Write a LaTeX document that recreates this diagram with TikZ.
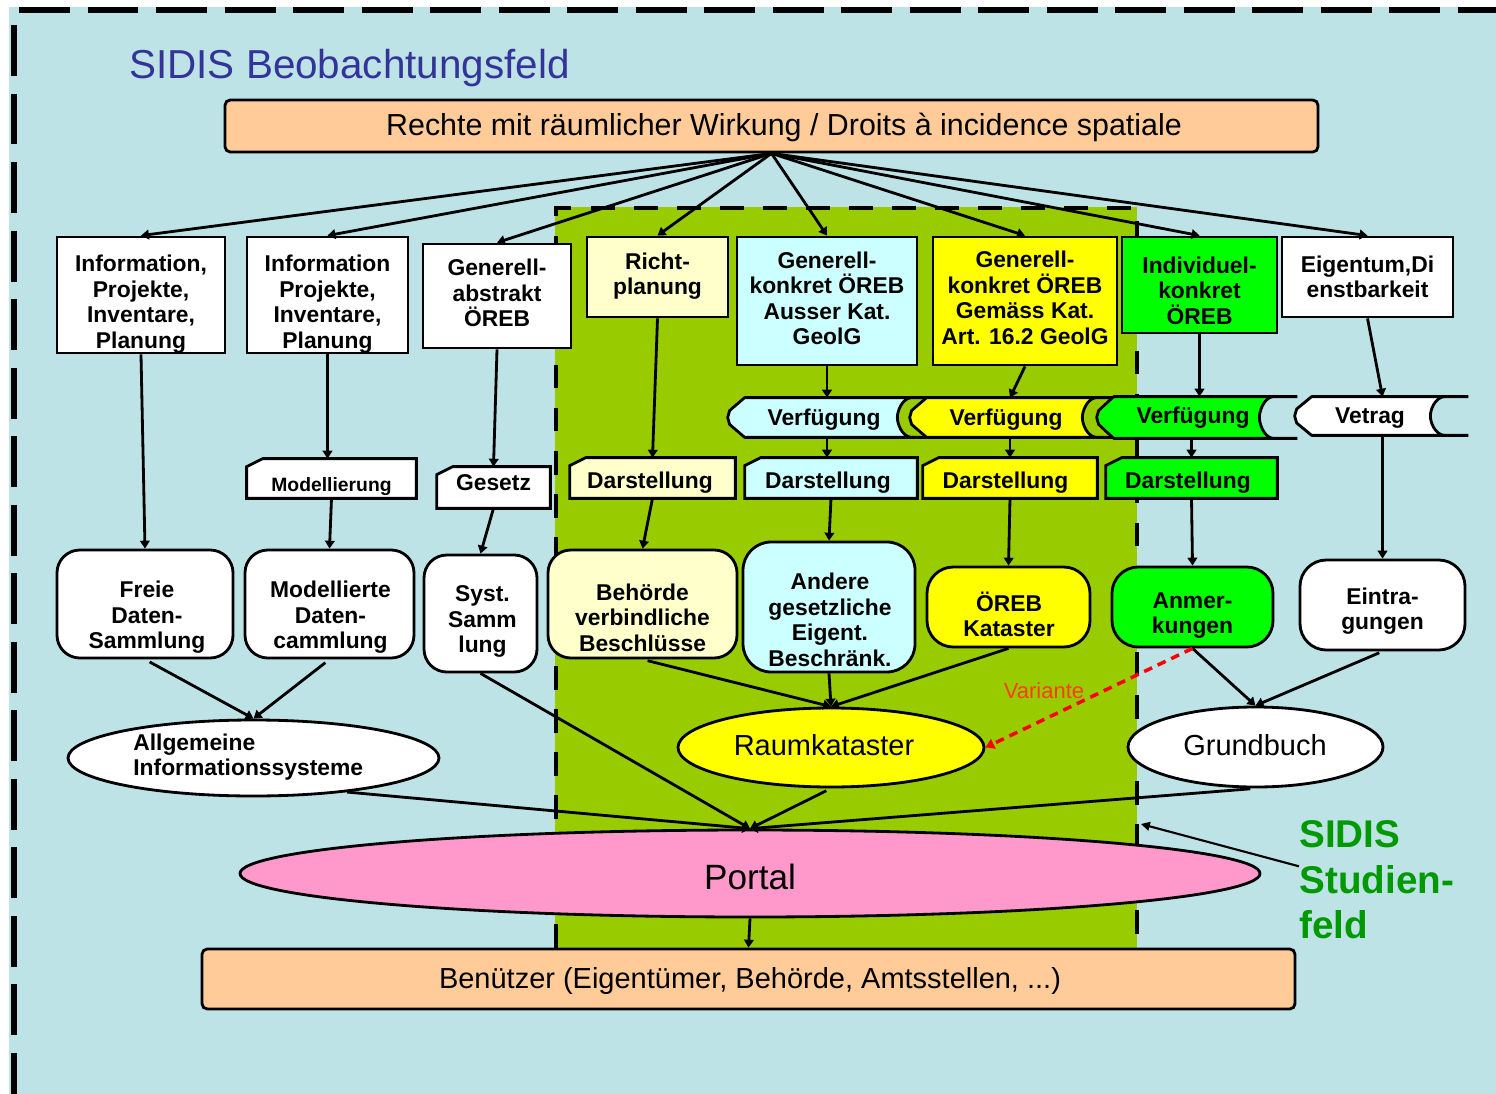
\documentclass[tikz,border=0pt]{standalone}
\usepackage{fontspec}
\setmainfont{Liberation Sans}
\usetikzlibrary{arrows.meta,calc,shapes.geometric}
\definecolor{bgblue}{RGB}{190,227,230}
\definecolor{sgreen}{RGB}{153,204,0}
\definecolor{peach}{RGB}{255,204,153}
\definecolor{cream}{RGB}{255,255,204}
\definecolor{lcyan}{RGB}{204,255,255}
\definecolor{yel}{RGB}{255,255,0}
\definecolor{lgreen}{RGB}{0,255,0}
\definecolor{pinkp}{RGB}{255,153,204}
\definecolor{tblue}{RGB}{51,51,153}
\definecolor{dgreen}{RGB}{0,153,0}
\definecolor{varred}{RGB}{255,60,0}
\newcommand\pxu{0.02cm}
\newcommand\boxfont{\fontsize{13pt}{14.5pt}\selectfont\bfseries}
\newcommand\cardshape[2]{\draw[line width=1.6pt, fill=#2] ($(#1.north west)+(0,8)$) -- ($(#1.north west)+(16,0)$) -- (#1.north east) -- (#1.south east) -- (#1.south west) -- cycle;}
\newcommand\bannershape[2]{%
  \fill[#2] ($(#1.north west)+(17,0)$) -- (#1.north east)
    .. controls ($(#1.north east)+(-9,2)$) and ($(#1.east)+(-13,-6)$) .. ($(#1.east)+(-13,0)$)
    .. controls ($(#1.east)+(-13,6)$) and ($(#1.south east)+(-9,-2)$) .. (#1.south east)
    -- ($(#1.south west)+(17,0)$)
    -- ($(#1.west)+(2,7)$) -- (#1.west) -- ($(#1.west)+(2,-7)$) -- cycle;
  \draw[line width=1.6pt, line join=round] ($(#1.north east)+(25,0)$) -- ($(#1.north west)+(17,0)$)
    -- ($(#1.west)+(2,-7)$) -- (#1.west) -- ($(#1.west)+(2,7)$)
    -- ($(#1.south west)+(17,0)$)
    -- ($(#1.south east)+(25,0)$);
  \draw[line width=1.6pt] (#1.north east)
    .. controls ($(#1.north east)+(-9,2)$) and ($(#1.east)+(-13,-6)$) .. ($(#1.east)+(-13,0)$)
    .. controls ($(#1.east)+(-13,6)$) and ($(#1.south east)+(-9,-2)$) .. (#1.south east);
}
\begin{document}
\begin{tikzpicture}[x=0.02cm,y=-0.02cm,
  bx/.style={draw, line width=1.6pt, inner sep=0pt},
  sz/.style 2 args={minimum width=#1*\pxu, minimum height=#2*\pxu},
  hid/.style={inner sep=0pt, draw=none},
  txt/.style={align=center, inner sep=0pt, font=\boxfont},
  arr/.style={line width=1.6pt, -{Triangle[length=4.5pt,width=5.5pt]}},
  rr/.style={bx, rounded corners=13pt},
  ell/.style={bx, ellipse},
]
\useasboundingbox (0,0) rectangle (1496,1094);
\fill[white] (0,0) rectangle (1496,1094);
\fill[bgblue] (9,7) rectangle (1496,1094);
\draw[line width=3pt, dash pattern=on 29pt off 10pt] (19,10) -- (1496,10);
\draw[line width=3pt, dash pattern=on 29pt off 10pt] (14,25) -- (14,1094);
% study field
\fill[sgreen] (555,207) rectangle (1137,948);
\draw[line width=2.2pt, dash pattern=on 13.5pt off 11pt] (556,948) -- (556,208) -- (1137,208) -- (1137,948);

% title
\node[anchor=west, inner sep=0pt, text=tblue, font=\fontsize{23pt}{27pt}\selectfont] (title) at (129,68) {SIDIS Beobachtungsfeld};

% top box
\node[bx, fill=peach, sz={1093}{52}, rounded corners=3pt] (top) at (771.5,126) {};
\node[inner sep=0pt, font=\fontsize{17.3pt}{20pt}\selectfont] (toptxt) at (784,127) {Rechte mit räumlicher Wirkung / Droits à incidence spatiale};

% row 1
\node[bx, fill=white, sz={168}{116}] (b1) at (141,295) {};
\node[bx, fill=white, sz={161}{116}] (b2) at (327.5,295) {};
\node[bx, fill=white, sz={148}{104}] (b3) at (497,296) {};
\node[bx, fill=cream, sz={141}{80}] (b4) at (657.5,277) {};
\node[bx, fill=lcyan, sz={180}{128}] (b5) at (827,301) {};
\node[bx, fill=yel, sz={184}{128}] (b6) at (1025,301) {};
\node[bx, fill=lgreen, sz={155}{96}] (b7) at (1199.5,285) {};
\node[bx, fill=white, sz={171}{80}] (b8) at (1367.5,277) {};

\node[txt] (t1) at (141,304) {Information,\\Projekte,\\Inventare,\\Planung};
\node[txt] (t2) at (327.5,304) {Information\\Projekte,\\Inventare,\\Planung};
\node[txt] (t3) at (497,293) {Generell-\\abstrakt\\ÖREB};
\node[txt] (t4) at (657.5,276) {Richt-\\planung};
\node[txt] (t5) at (827,298.5) {Generell-\\konkret ÖREB\\Ausser Kat.\\GeolG};
\node[txt] (t6) at (1025,298) {Generell-\\konkret ÖREB\\Gemäss Kat.\\Art. 16.2 GeolG};
\node[txt] (t7) at (1199.5,290.5) {Individuel-\\konkret\\ÖREB};
\node[txt] (t8) at (1367.5,277) {Eigentum,Di\\enstbarkeit};

% row 2: Verfuegung banners
\node[hid, sz={182}{39}] (v1) at (819,417.5) {};
\node[hid, sz={185}{39}] (v2) at (1002.5,417.5) {};
\node[hid, sz={175}{41}] (v3) at (1184.5,417.5) {};
\node[hid, sz={148}{38}] (v4) at (1369,416) {};
\bannershape{v1}{lcyan}
\bannershape{v2}{yel}
\bannershape{v3}{lgreen}
\bannershape{v4}{white}
\node[txt] (v1t) at (824,420) {Verfügung};
\node[txt] (v2t) at (1006,420) {Verfügung};
\node[txt] (v3t) at (1193,418) {Verfügung};
\node[txt] (v4t) at (1370,418) {Vetrag};

% cards
\node[hid, sz={169}{39}] (mod) at (331.5,478.5) {};
\node[hid, sz={113}{41}] (ges) at (493.5,487.5) {};
\node[hid, sz={165}{40}] (d1) at (652.5,478) {};
\node[hid, sz={172}{40}] (d2) at (831,478) {};
\node[hid, sz={174}{40}] (d3) at (1010,478) {};
\node[hid, sz={171}{40}] (d4) at (1191.5,478) {};
\cardshape{mod}{white}
\cardshape{ges}{white}
\cardshape{d1}{cream}
\cardshape{d2}{lcyan}
\cardshape{d3}{yel}
\cardshape{d4}{lgreen}
\node[txt, font=\fontsize{11pt}{13pt}\selectfont\bfseries] (modt) at (331.5,487) {Modellierung};
\node[txt] (gest) at (493.5,483) {Gesetz};
\node[txt] (d1t) at (650,483) {Darstellung};
\node[txt] (d2t) at (828,483) {Darstellung};
\node[txt] (d3t) at (1005.5,483) {Darstellung};
\node[txt] (d4t) at (1188,483) {Darstellung};

% row 4
\node[rr, fill=white, sz={176}{108}] (freie) at (145,604) {};
\node[rr, fill=white, sz={169}{108}] (modell) at (329.5,604) {};
\node[rr, fill=white, sz={113}{117}] (syst) at (480.5,613.5) {};
\node[rr, fill=cream, sz={189}{108}] (beh) at (642.5,604) {};
\node[rr, fill=lcyan, sz={172}{130}, rounded corners=16pt] (andere) at (829,607) {};
\node[rr, fill=yel, sz={163}{80}, rounded corners=15pt] (oreb) at (1008.5,607) {};
\node[rr, fill=lgreen, sz={161}{80}, rounded corners=15pt] (anm) at (1192.5,607) {};
\node[rr, fill=white, sz={165}{90}, rounded corners=15pt] (eint) at (1382.5,605) {};
\node[txt] (freiet) at (147,617.5) {Freie\\Daten-\\Sammlung};
\node[txt] (modellt) at (330.5,617.5) {Modellierte\\Daten-\\cammlung};
\node[txt] (systt) at (482.5,621.5) {Syst.\\Samm\\lung};
\node[txt] (beht) at (642.5,617.5) {Behörde\\verbindliche\\Beschlüsse};
\node[txt] (anderet) at (830,620) {Andere\\gesetzliche\\Eigent.\\Beschränk.};
\node[txt] (orebt) at (1009,614.5) {ÖREB\\Kataster};
\node[txt] (anmt) at (1192.5,615.5) {Anmer-\\kungen};
\node[txt] (eintt) at (1382.5,611) {Eintra-\\gungen};

% row 5
\node[ell, fill=white, sz={371}{76}] (allg) at (253.5,758) {};
\node[ell, fill=yel, sz={306}{79}] (raum) at (831,747.5) {};
\node[ell, fill=white, sz={255}{80}] (grund) at (1255.5,747) {};
\node[txt, align=left, anchor=west] (allgt) at (133,757) {Allgemeine\\Informationssysteme};
\node[inner sep=0pt, font=\fontsize{16.5pt}{19pt}\selectfont] (raumt) at (824,745) {Raumkataster};
\node[inner sep=0pt, font=\fontsize{16.5pt}{19pt}\selectfont] (grundt) at (1255,745) {Grundbuch};

% portal and users
\node[ell, fill=pinkp, sz={1020}{87}] (portal) at (750,873.5) {};
\node[inner sep=0pt, font=\fontsize{20pt}{24pt}\selectfont] (portalt) at (750,877) {Portal};
\node[bx, fill=peach, sz={1093}{60}, rounded corners=3pt] (ben) at (748.5,979) {};
\node[inner sep=0pt, font=\fontsize{16.5pt}{19pt}\selectfont] (bent) at (750,981) {Benützer (Eigentümer, Behörde, Amtsstellen, ...)};

% SIDIS Studienfeld
\node[anchor=west, align=left, inner sep=0pt, text=dgreen, font=\fontsize{22pt}{26pt}\selectfont\bfseries] (stud) at (1299,880) {SIDIS\\Studien-\\feld};
\coordinate (gb) at (1141,824);

% connectors
\foreach \b in {b1,b2,b3,b4,b5,b6,b7,b8} \draw[arr] (top.south) -- (\b.north);
\draw[arr] (b1.south) -- (freie.north);
\draw[arr] (b2.south) -- (b2.south |- mod.north);
\draw[arr] (mod.south) -- (modell.north);
\draw[arr] (b3.south) -- (ges.north);
\draw[arr] (ges.south) -- (syst.north);
\draw[arr] (b4.south) -- (d1.north);
\draw[arr] (d1.south) -- (beh.north);
\draw[arr] (b5.south) -- (b5.south |- v1.north);
\draw[arr] (b5.south |- v1.south) -- (b5.south |- d2.north);
\draw[arr] (d2.south) -- (andere.north);
\draw[arr] (b6.south) -- (d3.north |- v2.north);
\draw[arr] (d3.north |- v2.south) -- (d3.north);
\draw[arr] (d3.south) -- (oreb.north);
\draw[arr] (b7.south) -- (b7.south |- v3.north);
\draw[arr] (d4.north |- v3.south) -- (d4.north);
\draw[arr] (d4.south) -- (anm.north);
\draw[arr] (b8.south) -- (eint.north |- v4.north);
\draw[arr] (eint.north |- v4.south) -- (eint.north);
\draw[arr, shorten <=3pt] (freie.south) -- (allg.north);
\draw[arr, shorten <=3pt] (modell.south) -- (allg.north);
\draw[arr, shorten <=3pt] (beh.south) -- (raum.north);
\draw[arr] (andere.south) -- (raum.north);
\draw[arr] (oreb.south) -- (raum.north);
\draw[arr] (anm.south) -- (grund.north);
\draw[arr, shorten <=2pt] (eint.south) -- (grund.north);
\draw[arr] (syst.south) -- (portal.north);
\draw[arr] (allg.-20) -- (portal.north);
\draw[arr, shorten <=3pt] (raum.south) -- (portal.north);
\draw[arr, shorten <=3pt] (grund.south) -- (portal.north);
\draw[arr] (portal.south) -- (ben.north);
\draw[line width=2pt, red, dash pattern=on 5pt off 3.5pt, -{Triangle[length=5pt,width=6pt]}] (anm.south) -- (raum.east);
\node[inner sep=0pt, text=varred, font=\fontsize{12.5pt}{15pt}\selectfont] (vart) at (1044,691) {Variante};
\draw[line width=1.2pt, -{Triangle[length=5pt,width=5pt]}] (stud.170) -- (gb);
\end{tikzpicture}
\end{document}
